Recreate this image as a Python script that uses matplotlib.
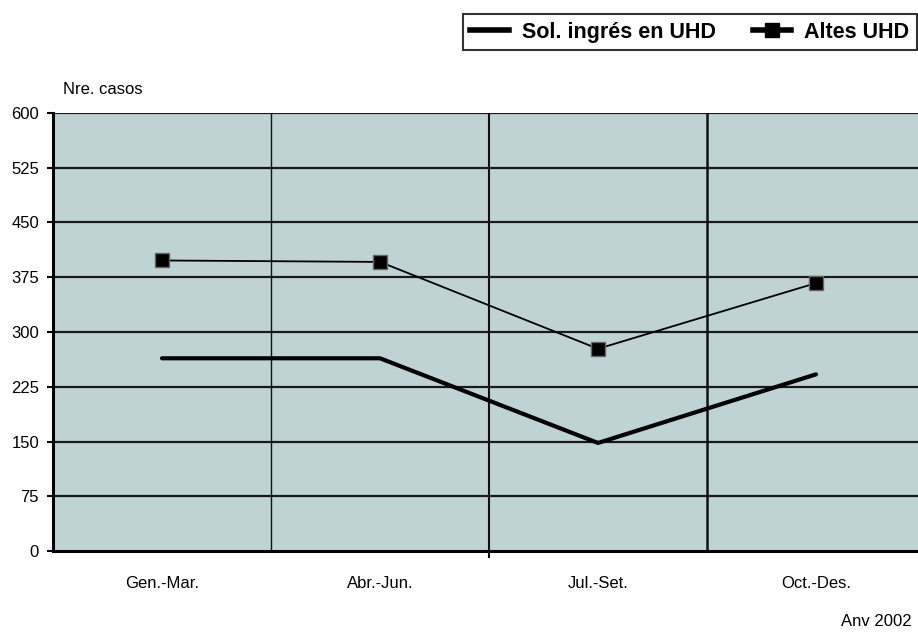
import numpy as np
import matplotlib.pyplot as plt
from matplotlib.lines import Line2D

plt.rcParams['font.family'] = ['Liberation Sans', 'DejaVu Sans']

# trimestres i valors
trimestres = ['Gen.-Mar.', 'Abr.-Jun.', 'Jul.-Set.', 'Oct.-Des.']
sol_ingres = [264, 264, 148, 242]
altes = [398, 396, 277, 367]
y_ticks = [0, 75, 150, 225, 300, 375, 450, 525, 600]

fig = plt.figure(figsize=(9.18, 6.34), dpi=100)
W, H = 918, 634
ax = fig.add_axes([53 / W, 1 - 551 / H, (925 - 53) / W, (551 - 113) / H])
ax.set_facecolor('#BFD3D5')

x = np.arange(len(trimestres))

# reixeta horitzontal
for v in y_ticks[1:]:
    ax.axhline(v, color='#1a1a1a', lw=1.6, zorder=1)
# separadors verticals entre trimestres
ax.axvline(0.5, color='#111111', lw=1.0, zorder=1)
ax.axvline(1.5, color='#111111', lw=1.5, zorder=1)
ax.axvline(2.5, color='#111111', lw=1.8, zorder=1)

ax.plot(x, sol_ingres, color='black', lw=3.0, zorder=3, solid_capstyle='round')
ax.plot(x, altes, color='black', lw=1.3, marker='s', markersize=10,
        markerfacecolor='black', markeredgecolor='#666666', markeredgewidth=1.0, zorder=4)

ax.set_xlim(-0.5, 3.5)
ax.set_ylim(0, 600)
ax.set_yticks(y_ticks)
ax.tick_params(axis='y', length=4, width=1.5, pad=6, labelsize=12)

ax.set_xticks([1.5])
ax.set_xticklabels([''])
ax.set_xticks(x, minor=True)
ax.set_xticklabels(trimestres, minor=True)
ax.tick_params(axis='x', which='major', length=5, width=1.5, direction='out')
ax.tick_params(axis='x', which='minor', length=0, pad=18, labelsize=12)

for s in ['top', 'right']:
    ax.spines[s].set_visible(False)
ax.spines['left'].set_linewidth(2.2)
ax.spines['bottom'].set_linewidth(2.2)
ax.spines['left'].set_zorder(5)
ax.spines['bottom'].set_zorder(5)

fig.text(63 / W, 1 - 89 / H, 'Nre. casos', fontsize=12, va='center', ha='left')
fig.text(912 / W, 1 - 621 / H, 'Anv 2002', fontsize=12, va='center', ha='right')

handles = [
    Line2D([], [], color='black', lw=4),
    Line2D([], [], color='black', lw=4, marker='s', markersize=10,
           markerfacecolor='black', markeredgecolor='black'),
]
leg = fig.legend(handles, ['Sol. ingrés en UHD', 'Altes UHD'], ncol=2,
                 loc='upper right', bbox_to_anchor=(917 / W, 1 - 14 / H),
                 prop={'weight': 'bold', 'size': 15.5}, frameon=True, fancybox=False,
                 handlelength=1.8, handletextpad=0.6, columnspacing=1.7,
                 borderpad=0.35, borderaxespad=0)
leg.get_frame().set_edgecolor('black')
leg.get_frame().set_linewidth(1.5)

fig.savefig('out.png', dpi=100)
